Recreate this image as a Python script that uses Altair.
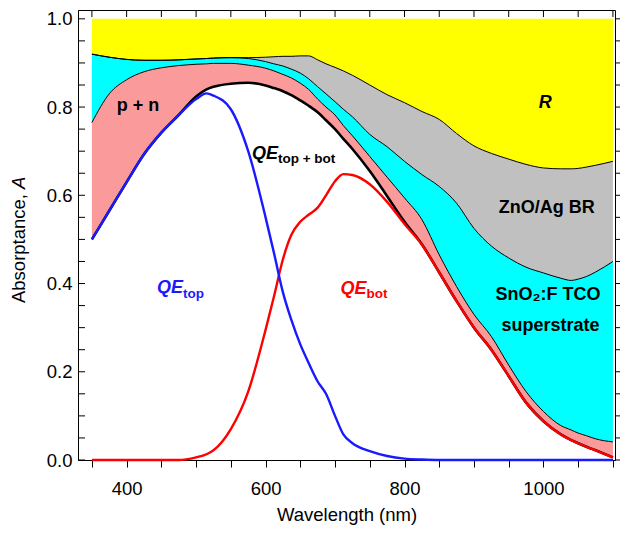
import altair as alt
import pandas as pd

# ---------------- data ----------------
wavelength = [350, 375, 400, 425, 450, 475, 500, 515, 525, 550, 575, 600, 612, 625, 637,
              650, 662, 675, 687, 700, 712, 725, 750, 775, 800, 825, 850, 875, 900, 925,
              950, 975, 1000, 1025, 1040, 1050, 1062, 1075, 1100]

qe_top = [0.500, 0.565, 0.630, 0.693, 0.742, 0.782, 0.818, 0.831, 0.826, 0.795, 0.700, 0.550,
          0.470, 0.380, 0.318, 0.262, 0.220, 0.178, 0.150, 0.100, 0.058, 0.038, 0.020, 0.009,
          0.003, 0.001, 0.000, 0.000, 0.000, 0.000, 0.000, 0.000, 0.000, 0.000, 0.000, 0.000,
          0.000, 0.000, 0.000]

qe_bot = [0.000, 0.000, 0.000, 0.000, 0.000, 0.000, 0.006, 0.013, 0.022, 0.070, 0.155, 0.295,
          0.370, 0.455, 0.510, 0.540, 0.556, 0.572, 0.600, 0.632, 0.648, 0.646, 0.625, 0.585,
          0.535, 0.488, 0.425, 0.360, 0.300, 0.250, 0.190, 0.130, 0.088, 0.058, 0.045, 0.038,
          0.030, 0.022, 0.006]

qe_sum = [0.500, 0.565, 0.630, 0.693, 0.742, 0.782, 0.824, 0.840, 0.846, 0.853, 0.855, 0.849,
          0.843, 0.836, 0.827, 0.815, 0.803, 0.788, 0.770, 0.750, 0.728, 0.705, 0.655, 0.598,
          0.540, 0.489, 0.425, 0.360, 0.300, 0.250, 0.190, 0.130, 0.088, 0.058, 0.045, 0.038,
          0.030, 0.022, 0.006]

pn_top = [0.765, 0.830, 0.862, 0.880, 0.889, 0.894, 0.897, 0.898, 0.899, 0.899, 0.895, 0.888,
          0.882, 0.874, 0.866, 0.854, 0.840, 0.818, 0.800, 0.782, 0.758, 0.735, 0.688, 0.641,
          0.594, 0.545, 0.465, 0.393, 0.330, 0.280, 0.215, 0.155, 0.110, 0.078, 0.068, 0.061,
          0.055, 0.048, 0.041]

tco_top = [0.920, 0.913, 0.908, 0.906, 0.906, 0.907, 0.909, 0.910, 0.911, 0.912, 0.910, 0.903,
           0.898, 0.893, 0.886, 0.877, 0.864, 0.846, 0.830, 0.812, 0.795, 0.778, 0.738, 0.710,
           0.677, 0.647, 0.620, 0.582, 0.525, 0.485, 0.458, 0.437, 0.424, 0.412, 0.407, 0.410,
           0.416, 0.426, 0.450]

br_top = [0.920, 0.913, 0.908, 0.906, 0.906, 0.907, 0.909, 0.910, 0.911, 0.912, 0.912, 0.913,
          0.914, 0.915, 0.915, 0.916, 0.916, 0.907, 0.898, 0.890, 0.882, 0.872, 0.850, 0.828,
          0.810, 0.790, 0.772, 0.740, 0.712, 0.695, 0.682, 0.670, 0.662, 0.660, 0.660, 0.661,
          0.664, 0.668, 0.677]

x_ticks = [350, 400, 450, 500, 550, 600, 650, 700, 750, 800, 850, 900, 950, 1000, 1050, 1100]
y_ticks = [0.0, 0.05, 0.1, 0.15, 0.2, 0.25, 0.3, 0.35, 0.4, 0.45, 0.5, 0.55, 0.6, 0.65, 0.7,
           0.75, 0.8, 0.85, 0.9, 0.95, 1.0]
y_labels = [0.0, 0.2, 0.4, 0.6, 0.8, 1.0]

# annotation texts
qe_x = [443.7, 580.4, 708.0]
qe_y = [0.378, 0.683, 0.377]
sub_text = ["top", "top + bot", "bot"]
sub_x = [481.1, 617.8, 745.4]
sub_y = [0.368, 0.674, 0.367]
qe_color = ["#1a1aff", "#000000", "#ff0000"]

plain_text = ["p + n", "ZnO/Ag BR", "SnO\u2082:F TCO", "superstrate"]
plain_x = [416.3, 1004.8, 1006.5, 1010.0]
plain_y = [0.790, 0.561, 0.362, 0.292]

r_text = ["R"]
r_x = [1002.6]
r_y = [0.799]

y_title_main = "Absorptance,"
y_title_var = "A"

# ---------------- chart ----------------
FONT = "Liberation Sans"
W, H = 537, 450

df = pd.DataFrame({
    "wl": wavelength, "qe_top": qe_top, "qe_bot": qe_bot, "qe_sum": qe_sum,
    "pn": pn_top, "tco": tco_top, "br": br_top,
})
df["one"] = 1.0

x_scale = alt.Scale(domain=[330, 1103], nice=False, zero=False)
y_scale = alt.Scale(domain=[0, 1.02], nice=False, zero=False)

x_axis = alt.Axis(values=x_ticks, format="d",
                  labelExpr="datum.value % 200 == 0 ? datum.label : ''",
                  title="Wavelength (nm)", tickSize=7, labelPadding=12,
                  labelFontSize=18.5, titleFontSize=18.5, titleFontWeight="normal",
                  titlePadding=8, grid=False, labelFlush=False)
y_axis = alt.Axis(values=y_labels, format=".1f", title=None,
                  ticks=False, tickSize=0, labelPadding=6,
                  labelFontSize=18.5, grid=False, labelFlush=False)

X = alt.X("wl:Q", scale=x_scale, axis=x_axis)


def Y(field):
    return alt.Y(f"{field}:Q", scale=y_scale, axis=y_axis)


base = alt.Chart(df)
interp = "monotone"

yellow = base.mark_area(color="#ffff00", interpolate=interp).encode(
    x=X, y=Y("br"), y2="one:Q")
gray = base.mark_area(color="#c0c0c0", interpolate=interp).encode(
    x=X, y=Y("tco"), y2="br:Q")
cyan = base.mark_area(color="#00ffff", interpolate=interp).encode(
    x=X, y=Y("pn"), y2="tco:Q")
salmon = base.mark_area(color="#fa9a9a", interpolate=interp).encode(
    x=X, y=Y("qe_sum"), y2="pn:Q")

thin = dict(color="black", strokeWidth=1, interpolate=interp)
line_br = base.mark_line(**thin).encode(x=X, y=Y("br"))
line_tco = base.mark_line(**thin).encode(x=X, y=Y("tco"))
line_pn = base.mark_line(**thin).encode(x=X, y=Y("pn"))
line_sum = base.mark_line(color="black", strokeWidth=2.6, interpolate=interp).encode(
    x=X, y=Y("qe_sum"))
line_bot = base.mark_line(color="#ff0000", strokeWidth=2.4, interpolate=interp).encode(
    x=X, y=Y("qe_bot"))
line_top = base.mark_line(color="#1a1aff", strokeWidth=2.4, interpolate=interp).encode(
    x=X, y=Y("qe_top"))

qe_df = pd.DataFrame({"t": ["QE"] * 3, "x": qe_x, "y": qe_y, "c": qe_color})
sub_df = pd.DataFrame({"t": sub_text, "x": sub_x, "y": sub_y, "c": qe_color})
plain_df = pd.DataFrame({"t": plain_text, "x": plain_x, "y": plain_y})
r_df = pd.DataFrame({"t": r_text, "x": r_x, "y": r_y})

XL = alt.X("x:Q", scale=x_scale, axis=x_axis)
YL = alt.Y("y:Q", scale=y_scale, axis=y_axis)

qe_lab = alt.Chart(qe_df).mark_text(
    font=FONT, fontSize=18, fontWeight="bold", fontStyle="italic",
    align="left", baseline="alphabetic").encode(
    x=XL, y=YL, text="t:N", color=alt.Color("c:N", scale=None))
sub_lab = alt.Chart(sub_df).mark_text(
    font=FONT, fontSize=13.5, fontWeight="bold",
    align="left", baseline="alphabetic").encode(
    x=XL, y=YL, text="t:N", color=alt.Color("c:N", scale=None))
plain_lab = alt.Chart(plain_df).mark_text(
    font=FONT, fontSize=18, fontWeight="bold", color="black",
    align="center", baseline="alphabetic").encode(
    x=XL, y=YL, text="t:N")
r_lab = alt.Chart(r_df).mark_text(
    font=FONT, fontSize=18, fontWeight="bold", fontStyle="italic", color="black",
    align="center", baseline="alphabetic").encode(
    x=XL, y=YL, text="t:N")

# y-axis title: "Absorptance, " upright + italic "A"
yt_main = alt.Chart(pd.DataFrame({"t": [y_title_main]})).mark_text(
    font=FONT, fontSize=18.5, color="black", angle=270,
    align="right", baseline="alphabetic").encode(
    text="t:N", x=alt.value(-53), y=alt.value(184))
yt_var = alt.Chart(pd.DataFrame({"t": [y_title_var]})).mark_text(
    font=FONT, fontSize=18.5, color="black", angle=270, fontStyle="italic",
    align="left", baseline="alphabetic").encode(
    text="t:N", x=alt.value(-53), y=alt.value(179))

# inward ticks (top, left) and outward ticks (right)
xt_df = pd.DataFrame({"v": x_ticks})
yt_df = pd.DataFrame({"v": y_ticks})
top_ticks = alt.Chart(xt_df).mark_rule(color="black", strokeWidth=1).encode(
    x=alt.X("v:Q", scale=x_scale, axis=x_axis), y=alt.value(0), y2=alt.value(7))
left_ticks = alt.Chart(yt_df).mark_rule(color="black", strokeWidth=1).encode(
    y=alt.Y("v:Q", scale=y_scale, axis=y_axis), x=alt.value(0), x2=alt.value(7))
right_ticks = alt.Chart(yt_df).mark_rule(color="black", strokeWidth=1).encode(
    y=alt.Y("v:Q", scale=y_scale, axis=y_axis), x=alt.value(W), x2=alt.value(W + 5))

chart = alt.layer(
    yellow, gray, cyan, salmon,
    line_br, line_tco, line_pn, line_sum, line_bot, line_top,
    qe_lab, sub_lab, plain_lab, r_lab, yt_main, yt_var,
    top_ticks, left_ticks, right_ticks,
).properties(
    width=W, height=H,
    autosize=alt.AutoSizeParams(type="none"),
    padding={"left": 70, "top": 2, "right": 5, "bottom": 68},
).configure_view(
    stroke="black", strokeWidth=1
).configure_axis(
    labelFont=FONT, titleFont=FONT, labelColor="black", titleColor="black",
    domainColor="black", tickColor="black", domainWidth=1, tickWidth=1
)

chart.save("out.html", embed_options={"renderer": "svg", "actions": False})
